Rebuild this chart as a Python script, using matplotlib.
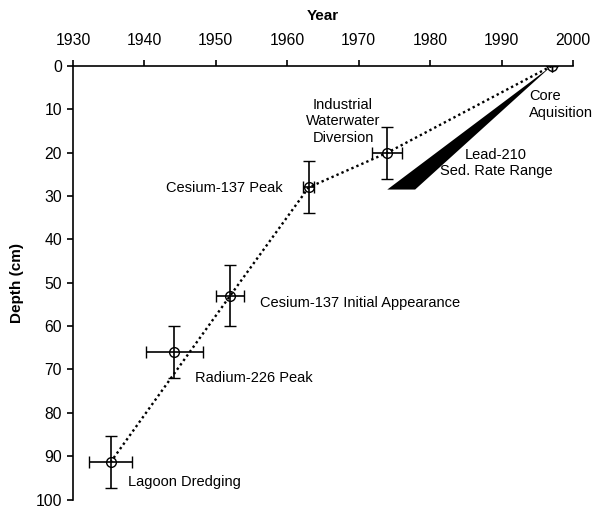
import matplotlib
matplotlib.use("Agg")
import matplotlib.pyplot as plt

plt.rcParams['font.family'] = ['Liberation Sans', 'DejaVu Sans']

# Data
events = ["Core\nAquisition", "Industrial\nWaterwater\nDiversion", "Cesium-137 Peak",
          "Cesium-137 Initial Appearance", "Radium-226 Peak", "Lagoon Dredging"]
years = [1997, 1974, 1963, 1952, 1944.2, 1935.3]
depths = [0, 20, 28, 53, 66, 91.3]
year_err = [0, 2.1, 0.8, 2.0, 4.0, 3.0]
depth_err = [0, 6, 6, 7, 6, 6]
# dotted trend line passes through these events (indices)
line_idx = [0, 1, 2, 3, 5]
# Lead-210 sedimentation rate wedge: apex and base
lead_years = [1997, 1974.0, 1977.9]
lead_depths = [0, 28.5, 28.5]

xticks = [1930, 1940, 1950, 1960, 1970, 1980, 1990, 2000]
yticks = [0, 10, 20, 30, 40, 50, 60, 70, 80, 90, 100]

fig = plt.figure(figsize=(6.01, 5.2), dpi=100)
ax = fig.add_axes([73/601, 1-499.5/520, 500/601, (499.5-66)/520])

ax.fill(lead_years, lead_depths, color='black', lw=0)
ax.plot([years[i] for i in line_idx], [depths[i] for i in line_idx],
        ls=(0, (1, 1.3)), color='black', lw=1.7)
ax.errorbar(years, depths, xerr=year_err, yerr=depth_err, fmt='o', ms=7,
            mfc='none', mec='black', mew=1, ecolor='black', elinewidth=1.2,
            capsize=4, capthick=1.2, zorder=5)

ax.set_xlim(1930, 2000)
ax.set_ylim(100, 0)
ax.xaxis.tick_top()
ax.xaxis.set_label_position('top')
ax.set_xticks(xticks)
ax.set_yticks(yticks)
ax.tick_params(direction='out', length=4, width=1.2, labelsize=11.3)
ax.tick_params(axis='x', pad=9)
ax.tick_params(axis='y', pad=4)
ax.set_xlabel("Year", fontsize=11, fontweight='bold', labelpad=9)
ax.set_ylabel("Depth (cm)", fontsize=11, fontweight='bold', labelpad=8)
for s in ['right', 'bottom']:
    ax.spines[s].set_visible(False)
for s in ['left', 'top']:
    ax.spines[s].set_linewidth(1.2)

fs = 10.5
ax.text(1993.9, 8.9, events[0], ha='left', va='center', fontsize=fs, linespacing=1.2)
ax.text(1967.8, 12.8, events[1], ha='center', va='center', fontsize=fs, linespacing=1.2)
ax.text(1989.2, 22.3, "Lead-210\nSed. Rate Range", ha='center', va='center', fontsize=fs, linespacing=1.2)
ax.text(1959.3, 28.1, events[2], ha='right', va='center', fontsize=fs)
ax.text(1956.2, 54.7, events[3], ha='left', va='center', fontsize=fs)
ax.text(1947.1, 72.0, events[4], ha='left', va='center', fontsize=fs)
ax.text(1937.7, 95.9, events[5], ha='left', va='center', fontsize=fs)

fig.savefig("out.png", dpi=100)
